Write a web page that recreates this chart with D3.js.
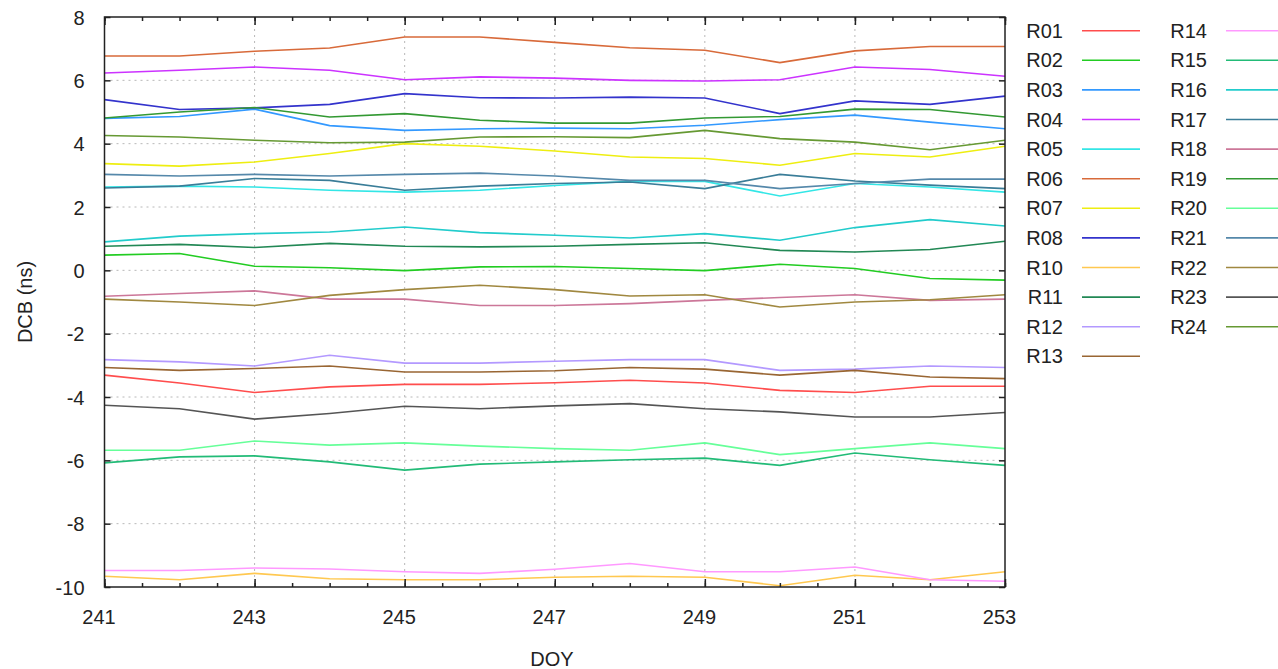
<!DOCTYPE html>
<html>
<head>
<meta charset="utf-8">
<script src="https://cdn.jsdelivr.net/npm/d3@7"></script>
<style>
  html, body { margin: 0; padding: 0; background: #fff; }
  svg { display: block; }
  text { font-family: "Liberation Sans", Arial, sans-serif; fill: #222; }
</style>
</head>
<body>
<svg id="chart" width="1278" height="669"></svg>
<script>
// ---- data ----
const days = [241, 242, 243, 244, 245, 246, 247, 248, 249, 250, 251, 252, 253];
const xTicks = [241, 243, 245, 247, 249, 251, 253];
const yTicks = [-10, -8, -6, -4, -2, 0, 2, 4, 6, 8];
const xLabel = "DOY";
const yLabel = "DCB (ns)";

const R01 = [-3.31, -3.56, -3.86, -3.68, -3.60, -3.60, -3.55, -3.47, -3.56, -3.79, -3.86, -3.66, -3.66];
const R02 = [0.48, 0.53, 0.13, 0.08, -0.01, 0.11, 0.12, 0.06, -0.01, 0.19, 0.06, -0.26, -0.31];
const R03 = [4.80, 4.86, 5.09, 4.57, 4.42, 4.47, 4.49, 4.47, 4.58, 4.76, 4.90, 4.68, 4.47];
const R04 = [6.23, 6.32, 6.42, 6.32, 6.02, 6.11, 6.07, 6.00, 5.98, 6.02, 6.42, 6.34, 6.13];
const R05 = [2.63, 2.66, 2.63, 2.53, 2.47, 2.53, 2.68, 2.81, 2.81, 2.35, 2.74, 2.63, 2.47];
const R06 = [6.77, 6.77, 6.92, 7.02, 7.37, 7.37, 7.20, 7.03, 6.95, 6.56, 6.93, 7.07, 7.07];
const R07 = [3.37, 3.29, 3.42, 3.69, 4.00, 3.92, 3.77, 3.58, 3.53, 3.32, 3.69, 3.58, 3.92];
const R08 = [5.39, 5.08, 5.13, 5.24, 5.58, 5.45, 5.44, 5.47, 5.44, 4.95, 5.35, 5.24, 5.50];
const R10 = [-9.66, -9.77, -9.57, -9.74, -9.77, -9.77, -9.69, -9.66, -9.69, -9.96, -9.63, -9.77, -9.52];
const R11 = [0.76, 0.82, 0.72, 0.85, 0.76, 0.74, 0.76, 0.82, 0.87, 0.63, 0.58, 0.66, 0.92];
const R12 = [-2.82, -2.89, -3.02, -2.68, -2.93, -2.93, -2.87, -2.82, -2.82, -3.16, -3.12, -3.02, -3.07];
const R13 = [-3.07, -3.16, -3.10, -3.02, -3.21, -3.21, -3.17, -3.07, -3.12, -3.31, -3.16, -3.37, -3.42];
const R14 = [-9.48, -9.48, -9.40, -9.43, -9.52, -9.57, -9.44, -9.26, -9.52, -9.52, -9.37, -9.77, -9.82];
const R15 = [-6.08, -5.89, -5.86, -6.05, -6.31, -6.12, -6.05, -5.98, -5.93, -6.16, -5.77, -5.98, -6.16];
const R16 = [0.90, 1.08, 1.16, 1.21, 1.37, 1.19, 1.11, 1.02, 1.16, 0.95, 1.35, 1.60, 1.40];
const R17 = [2.60, 2.66, 2.90, 2.84, 2.53, 2.66, 2.74, 2.79, 2.58, 3.03, 2.82, 2.69, 2.58];
const R18 = [-0.82, -0.73, -0.65, -0.91, -0.91, -1.11, -1.11, -1.05, -0.95, -0.86, -0.77, -0.95, -0.91];
const R19 = [4.81, 5.00, 5.14, 4.84, 4.95, 4.74, 4.65, 4.65, 4.81, 4.86, 5.09, 5.08, 4.84];
const R20 = [-5.68, -5.68, -5.39, -5.52, -5.45, -5.55, -5.63, -5.68, -5.45, -5.82, -5.63, -5.45, -5.63];
const R21 = [3.03, 2.98, 3.03, 2.98, 3.03, 3.07, 2.98, 2.84, 2.84, 2.58, 2.74, 2.88, 2.88];
const R22 = [-0.91, -1.00, -1.11, -0.79, -0.61, -0.47, -0.61, -0.81, -0.77, -1.16, -1.00, -0.93, -0.77];
const R23 = [-4.26, -4.37, -4.70, -4.52, -4.29, -4.37, -4.28, -4.21, -4.37, -4.47, -4.63, -4.63, -4.49];
const R24 = [4.26, 4.21, 4.11, 4.03, 4.05, 4.21, 4.22, 4.19, 4.42, 4.16, 4.05, 3.81, 4.11];

const seriesNames = ["R01","R02","R03","R04","R05","R06","R07","R08","R10","R11","R12","R13",
                     "R14","R15","R16","R17","R18","R19","R20","R21","R22","R23","R24"];
const seriesValues = [R01,R02,R03,R04,R05,R06,R07,R08,R10,R11,R12,R13,
                      R14,R15,R16,R17,R18,R19,R20,R21,R22,R23,R24];
const seriesColors = ["#ff4d4d","#22cc22","#3399ff","#cc33ff","#33e6e6","#d86a3a","#eeee11","#3333cc",
                      "#ffc850","#228855","#b399ff","#996633",
                      "#ff99ff","#22bb77","#22cccc","#3a7d98","#cc7799","#339933","#66ff99","#5588aa",
                      "#a08840","#555555","#669933"];

// ---- layout ----
const svg = d3.select("#chart");
const pLeft = 104.5, pRight = 1005, pTop = 17, pBottom = 587;
const fontCss = '"Liberation Sans", Arial, sans-serif';

const x = d3.scaleLinear().domain([241, 253]).range([pLeft, pRight]);
const y = d3.scaleLinear().domain([-10, 8]).range([pBottom, pTop]);

// grid
const grid = svg.append("g");
grid.selectAll("line.gx").data(xTicks.slice(1, -1)).join("line")
  .attr("x1", d => x(d)).attr("x2", d => x(d)).attr("y1", pTop).attr("y2", pBottom)
  .attr("stroke", "#b8b8b8").attr("stroke-width", 1).attr("stroke-dasharray", "2,4");
grid.selectAll("line.gy").data(yTicks.slice(1, -1)).join("line")
  .attr("x1", pLeft).attr("x2", pRight).attr("y1", d => y(d)).attr("y2", d => y(d))
  .attr("stroke", "#b8b8b8").attr("stroke-width", 1).attr("stroke-dasharray", "2,4");

// lines
const line = d3.line().x((d, i) => x(days[i])).y(d => y(d));
svg.append("g").selectAll("path").data(seriesValues).join("path")
  .attr("d", d => line(d))
  .attr("fill", "none")
  .attr("stroke", (d, i) => seriesColors[i])
  .attr("stroke-width", 1.6);

// axes (ticks inward)
const plainFmt = d => String(d);
const minorX = d3.range(241, 253.01, 0.5);
const axB = svg.append("g").attr("transform", `translate(0,${pBottom})`)
  .call(d3.axisBottom(x).tickValues(minorX).tickSize(-4).tickFormat(""));
const axBM = svg.append("g").attr("transform", `translate(0,${pBottom})`)
  .call(d3.axisBottom(x).tickValues(xTicks).tickSize(-8).tickPadding(20).tickFormat(plainFmt));
const axT = svg.append("g").attr("transform", `translate(0,${pTop})`)
  .call(d3.axisTop(x).tickValues(minorX).tickSize(-4).tickFormat(""));
const axTM = svg.append("g").attr("transform", `translate(0,${pTop})`)
  .call(d3.axisTop(x).tickValues(xTicks).tickSize(-8).tickFormat(""));
const axL = svg.append("g").attr("transform", `translate(${pLeft},0)`)
  .call(d3.axisLeft(y).tickValues(yTicks).tickSize(-6).tickPadding(20).tickFormat(plainFmt));
const axR = svg.append("g").attr("transform", `translate(${pRight},0)`)
  .call(d3.axisRight(y).tickValues(yTicks).tickSize(-6).tickFormat(""));

[axB, axBM, axT, axTM, axL, axR].forEach(a => {
  a.selectAll(".domain").remove();
  a.selectAll(".tick line").attr("stroke", "#222").attr("stroke-width", 1.5);
  a.selectAll("text").style("font-size", "20px").attr("fill", "#222")
    .style("font-family", fontCss);
});
axBM.selectAll("text").attr("dx", "-6").attr("dy", "0.85em");
axL.selectAll("text").attr("dy", "0.36em");

// frame
svg.append("rect").attr("x", pLeft).attr("y", pTop).attr("width", pRight - pLeft).attr("height", pBottom - pTop)
  .attr("fill", "none").attr("stroke", "#222").attr("stroke-width", 1.5);

// axis labels
svg.append("text").attr("x", 552).attr("y", 666).attr("text-anchor", "middle")
  .style("font-size", "20px").text(xLabel);
svg.append("text").attr("transform", `translate(32,302) rotate(-90)`).attr("text-anchor", "middle")
  .style("font-size", "20px").text(yLabel);

// legend
const legend = svg.append("g");
seriesNames.forEach((name, i) => {
  const col = i < 12 ? 0 : 1;
  const row = i < 12 ? i : i - 12;
  const cy = 30.7 + row * 29.6;
  const tx = col === 0 ? 1063 : 1207;
  const lx = col === 0 ? 1082 : 1226;
  legend.append("text").attr("x", tx).attr("y", cy + 7).attr("text-anchor", "end")
    .style("font-size", "20px").text(name);
  legend.append("line").attr("x1", lx).attr("x2", lx + 58).attr("y1", cy).attr("y2", cy)
    .attr("stroke", seriesColors[i]).attr("stroke-width", 1.6);
});
</script>
</body>
</html>
